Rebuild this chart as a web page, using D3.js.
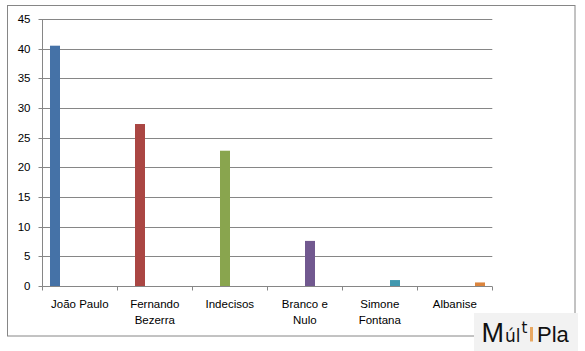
<!DOCTYPE html>
<html>
<head>
<meta charset="utf-8">
<script src="https://cdn.jsdelivr.net/npm/d3@7/dist/d3.min.js"></script>
<style>
  html, body { margin: 0; padding: 0; background: #fff; }
  svg { display: block; }
  text { font-family: "Liberation Sans", Arial, sans-serif; }
</style>
</head>
<body>
<svg id="chart" width="585" height="351"></svg>
<script>
const categories = ["João Paulo", "Fernando Bezerra", "Indecisos", "Branco e Nulo", "Simone Fontana", "Albanise"];
const categoryLines = [["João Paulo"], ["Fernando", "Bezerra"], ["Indecisos"], ["Branco e", "Nulo"], ["Simone", "Fontana"], ["Albanise"]];
const seriesNames = ["João Paulo", "Fernando Bezerra", "Indecisos", "Branco e Nulo", "Simone Fontana", "Albanise"];
const seriesValues = [40.5, 27.3, 22.8, 7.6, 1.0, 0.6];
const seriesColors = ["#4572A7", "#AA4643", "#89A54E", "#71588F", "#4198AF", "#DB843D"];
const yTicks = [0, 5, 10, 15, 20, 25, 30, 35, 40, 45];

const svg = d3.select("#chart");
const pLeft = 42.3, pRight = 492.3, pTop = 19, pBottom = 286;

// outer border
svg.append("rect").attr("x", 7.5).attr("y", 5.5).attr("width", 567.5).attr("height", 330.5)
  .attr("fill", "#fff").attr("stroke", "#868686").attr("stroke-width", 1);

const x0 = d3.scaleBand().domain(categories).range([pLeft, pRight]).paddingInner(0).paddingOuter(0);
const x1 = d3.scaleBand().domain(seriesNames).range([0, x0.bandwidth()]).paddingInner(0).paddingOuter(0.75);
const y = d3.scaleLinear().domain([0, 45]).range([pBottom, pTop]);

// gridlines
svg.append("g").selectAll("line").data(yTicks.filter(d => d > 0)).join("line")
  .attr("x1", pLeft).attr("x2", pRight)
  .attr("y1", d => Math.round(y(d)) + 0.5).attr("y2", d => Math.round(y(d)) + 0.5)
  .attr("stroke", "#868686").attr("stroke-width", 1);

// y axis
const yAxis = d3.axisLeft(y).tickValues(yTicks).tickSize(4).tickPadding(8);
const gy = svg.append("g").attr("transform", `translate(${Math.round(pLeft) + 0.5},0)`).call(yAxis);
gy.select(".domain").attr("stroke", "#868686").attr("d", `M0,${pTop}V${pBottom + 0.5}`);
gy.selectAll(".tick line").attr("stroke", "#868686");
gy.selectAll(".tick").attr("transform", d => `translate(0,${Math.round(y(d)) + 0.5})`);
gy.selectAll(".tick text").attr("font-size", 11.5).attr("fill", "#000")
  .attr("font-family", "Liberation Sans, Arial, sans-serif");

// bars
svg.append("g").selectAll("rect").data(seriesValues).join("rect")
  .attr("x", (d, i) => Math.round(x0(categories[i]) + x1(seriesNames[i])))
  .attr("width", Math.round(x1.bandwidth()))
  .attr("y", d => y(d))
  .attr("height", d => pBottom - y(d))
  .attr("fill", (d, i) => seriesColors[i]);

// x axis
const xAxis = d3.axisBottom(x0).tickSize(0).tickFormat("");
const gx = svg.append("g").attr("transform", `translate(0,${pBottom + 0.5})`).call(xAxis);
gx.select(".domain").attr("stroke", "#868686").attr("d", `M${pLeft},0H${pRight}`);
gx.selectAll(".tick").remove();
const boundaries = categories.map(c => x0(c)).concat([pRight]);
gx.selectAll("line.b").data(boundaries).join("line").attr("class", "b")
  .attr("x1", d => Math.round(d) + 0.5).attr("x2", d => Math.round(d) + 0.5)
  .attr("y1", 0).attr("y2", 4).attr("stroke", "#868686");

// x labels
const lbl = svg.append("g").selectAll("text").data(categories).join("text")
  .attr("x", c => x0(c) + x0.bandwidth() / 2)
  .attr("y", 307.5)
  .attr("text-anchor", "middle").attr("font-size", 11.5).attr("fill", "#000");
lbl.each(function(c, i) {
  const t = d3.select(this);
  categoryLines[i].forEach((ln, j) => {
    t.append("tspan").attr("x", x0(c) + x0.bandwidth() / 2).attr("dy", j === 0 ? 0 : 16.5).text(ln);
  });
});

// logo
const logo = svg.append("g").attr("fill", "#111");
logo.append("rect").attr("x", 474).attr("y", 313).attr("width", 104).attr("height", 38).attr("fill", "#f2f2f2");
const lt = logo.append("text").attr("x", 481.5).attr("y", 341.5);
lt.append("tspan").attr("font-size", 27).attr("font-family", "Liberation Sans, Arial, sans-serif").text("M");
lt.append("tspan").attr("font-size", 17).attr("font-family", "DejaVu Sans, sans-serif").attr("dx", 1).text("úl");
lt.append("tspan").attr("font-size", 15).attr("font-family", "DejaVu Sans, sans-serif").attr("dx", 1).attr("dy", -8.5).text("t");
logo.append("rect").attr("x", 530).attr("y", 327).attr("width", 3).attr("height", 14.5).attr("fill", "#E8A862");
logo.append("text").attr("x", 537).attr("y", 341.5).attr("font-size", 22)
  .attr("font-family", "Liberation Sans, Arial, sans-serif").text("Pla");
</script>
</body>
</html>
